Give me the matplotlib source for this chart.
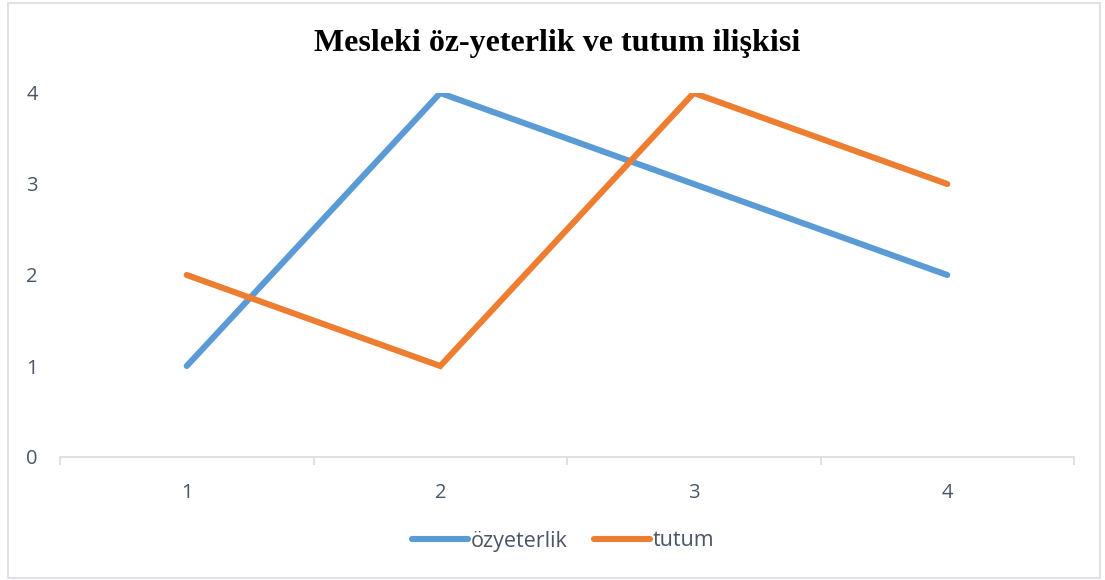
import matplotlib
matplotlib.use("Agg")
import matplotlib.pyplot as plt
from matplotlib.patches import Rectangle
from matplotlib.ticker import FixedLocator

categories = [1, 2, 3, 4]
ozyeterlik = [1, 4, 3, 2]
tutum = [2, 1, 4, 3]
yticks = [0, 1, 2, 3, 4]
title = "Mesleki öz-yeterlik ve tutum ilişkisi"

txt_color = "#4A5568"
fig = plt.figure(figsize=(11.05, 5.80), dpi=100)
fig.patches.append(Rectangle((8/1105, 2/580), 1092/1105, 575/580, transform=fig.transFigure,
                             fill=False, edgecolor="#D9DCE3", linewidth=1.2))
ax = fig.add_axes([60/1105, 1-457/580, (1074-60)/1105, (457-93)/580])

ax.plot(categories, ozyeterlik, color="#5B9BD5", lw=4.4, solid_capstyle="round", solid_joinstyle="miter", label="özyeterlik")
ax.plot(categories, tutum, color="#ED7D31", lw=4.4, solid_capstyle="round", solid_joinstyle="miter", label="tutum")

ax.set_xlim(0.5, 4.5)
ax.set_ylim(0, 4)
ax.set_xticks(categories)
ax.set_xticklabels([str(c) for c in categories])
ax.xaxis.set_minor_locator(FixedLocator([0.5, 1.5, 2.5, 3.5, 4.5]))
ax.tick_params(axis="x", which="major", length=0, pad=19, labelsize=14.5, labelcolor=txt_color)
ax.tick_params(axis="x", which="minor", length=6, width=1.2, color="#D9DCE3", direction="out")
ax.set_yticks(yticks)
ax.tick_params(axis="y", length=0, pad=16, labelsize=14.5, labelcolor=txt_color)
for lab in ax.get_xticklabels() + ax.get_yticklabels():
    lab.set_fontfamily("Open Sans")
for s in ["top", "right", "left"]:
    ax.spines[s].set_visible(False)
ax.spines["bottom"].set_color("#D9DCE3")
ax.spines["bottom"].set_linewidth(1.2)

fig.text(557/1105, 1-43/580, title, ha="center", va="center", fontsize=23,
         fontweight="bold", family="Liberation Serif", color="black")

leg = fig.legend(loc="center", bbox_to_anchor=(563/1105, 1-541/580), ncol=2, frameon=False,
                 prop={"family": "Open Sans", "size": 15.5}, handlelength=2.6, handletextpad=0.15,
                 columnspacing=1.2)
for t in leg.get_texts():
    t.set_color(txt_color)

fig.savefig("out.png", dpi=100)
